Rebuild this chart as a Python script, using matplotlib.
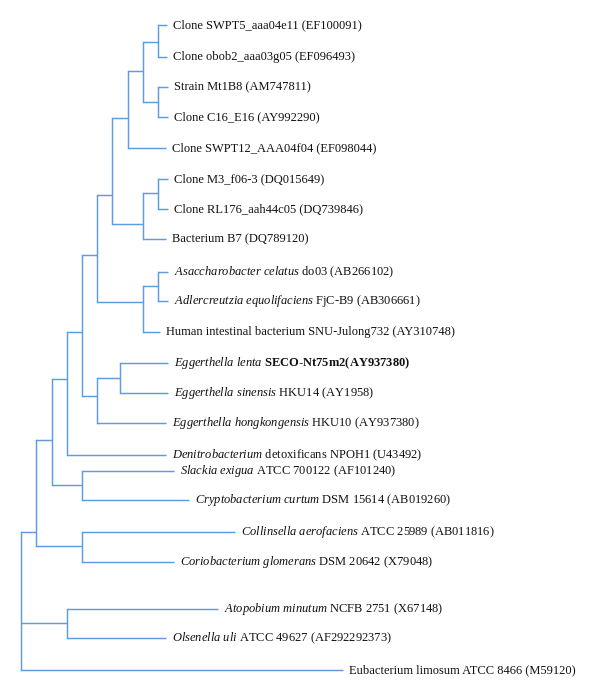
import matplotlib
matplotlib.use("Agg")
import matplotlib.pyplot as plt

# ---- leaves (top to bottom): italic part, remaining part ----
leaf_italic = [
    "", "", "", "", "", "", "", "",
    "Asaccharobacter celatus",
    "Adlercreutzia equolifaciens",
    "",
    "Eggerthella lenta",
    "Eggerthella sinensis",
    "Eggerthella hongkongensis",
    "Denitrobacterium",
    "Slackia exigua",
    "Cryptobacterium curtum",
    "Collinsella aerofaciens",
    "Coriobacterium glomerans",
    "Atopobium minutum",
    "Olsenella uli",
    "",
]
leaf_rest = [
    "Clone SWPT5_aaa04e11 (EF100091)",
    "Clone obob2_aaa03g05 (EF096493)",
    "Strain Mt1B8 (AM747811)",
    "Clone C16_E16 (AY992290)",
    "Clone SWPT12_AAA04f04 (EF098044)",
    "Clone M3_f06-3 (DQ015649)",
    "Clone RL176_aah44c05 (DQ739846)",
    "Bacterium B7 (DQ789120)",
    "do03 (AB266102)",
    "FjC-B9 (AB306661)",
    "Human intestinal bacterium SNU-Julong732 (AY310748)",
    "SECO-Nt75m2(AY937380)",
    "HKU14 (AY1958)",
    "HKU10 (AY937380)",
    "detoxificans NPOH1 (U43492)",
    "ATCC 700122 (AF101240)",
    "DSM 15614 (AB019260)",
    "ATCC 25989 (AB011816)",
    "DSM 20642 (X79048)",
    "NCFB 2751 (X67148)",
    "ATCC 49627 (AF292292373)",
    "Eubacterium limosum ATCC 8466 (M59120)",
]
leaf_bold = [False] * 11 + [True] + [False] * 10

leaf_y = [25, 57, 87, 117, 148, 179, 209, 239, 272, 301, 332, 363, 393, 423,
          455, 471, 500, 532, 562, 609, 638, 670]
leaf_tip = [167, 167, 168, 168, 166, 168, 168, 166, 168, 168, 160, 168, 168,
            166, 166, 174, 189, 235, 174, 218, 166, 343]

# ---- internal nodes ----
node_names = ["A", "B", "C", "D", "E", "F", "G", "H", "I", "J",
              "K", "L", "M", "N", "O", "P", "Q", "R", "S", "T"]
node_x = [158, 158, 143, 128, 158, 143, 112, 97, 143, 158,
          82, 97, 120, 67, 52, 82, 36, 82, 21, 67]
node_y = [42, 102, 71, 118, 193, 224, 195, 255, 302, 286,
          332, 396, 378, 379, 440, 485, 532, 546, 600, 623]
node_children = [
    [0, 1], [2, 3], ["A", "B"], ["C", 4], [5, 6], ["E", 7], ["D", "F"],
    ["G", "I"], ["J", 10], [8, 9], ["H", "L"], ["M", 13], [11, 12],
    ["K", 14], ["N", "P"], [15, 16], ["O", "R"], [17, 18], ["Q", "T", 21],
    [19, 20],
]

LINE_COLOR = "#5e9be0"
LW = 1.05
FONT = "Liberation Serif"
FS = 9.0
DPI = 100

plt.rcParams["mathtext.fontset"] = "custom"
plt.rcParams["mathtext.rm"] = FONT
plt.rcParams["mathtext.it"] = FONT + ":italic"
plt.rcParams["mathtext.bf"] = FONT + ":bold"

fig = plt.figure(figsize=(6.0, 6.96), dpi=DPI)
ax = fig.add_axes([0, 0, 1, 1])
ax.set_xlim(0, 600)
ax.set_ylim(696, 0)
ax.axis("off")

idx = {n: i for i, n in enumerate(node_names)}


def child_pos(c):
    if isinstance(c, str):
        i = idx[c]
        return node_x[i], node_y[i]
    return leaf_tip[c], leaf_y[c]


for i, ch in enumerate(node_children):
    x0 = node_x[i]
    ys = []
    for c in ch:
        cx, cy = child_pos(c)
        ys.append(cy)
        ax.plot([x0, cx], [cy, cy], color=LINE_COLOR, lw=LW,
                solid_capstyle="butt")
    ax.plot([x0, x0], [min(ys), max(ys)], color=LINE_COLOR, lw=LW,
            solid_capstyle="projecting")

for it, rest, bold, y, tip in zip(leaf_italic, leaf_rest, leaf_bold,
                                  leaf_y, leaf_tip):
    if it:
        label = r"$\mathit{" + it.replace(" ", r"\ ") + "}$ " + rest
    else:
        label = rest
    ax.annotate(label, xy=(tip, y), xycoords="data",
                xytext=(4.3, -2.2), textcoords="offset points",
                va="baseline", ha="left",
                family=FONT, fontsize=FS, color="#111111",
                weight="bold" if bold else "normal")

fig.savefig("out.png", dpi=DPI)
